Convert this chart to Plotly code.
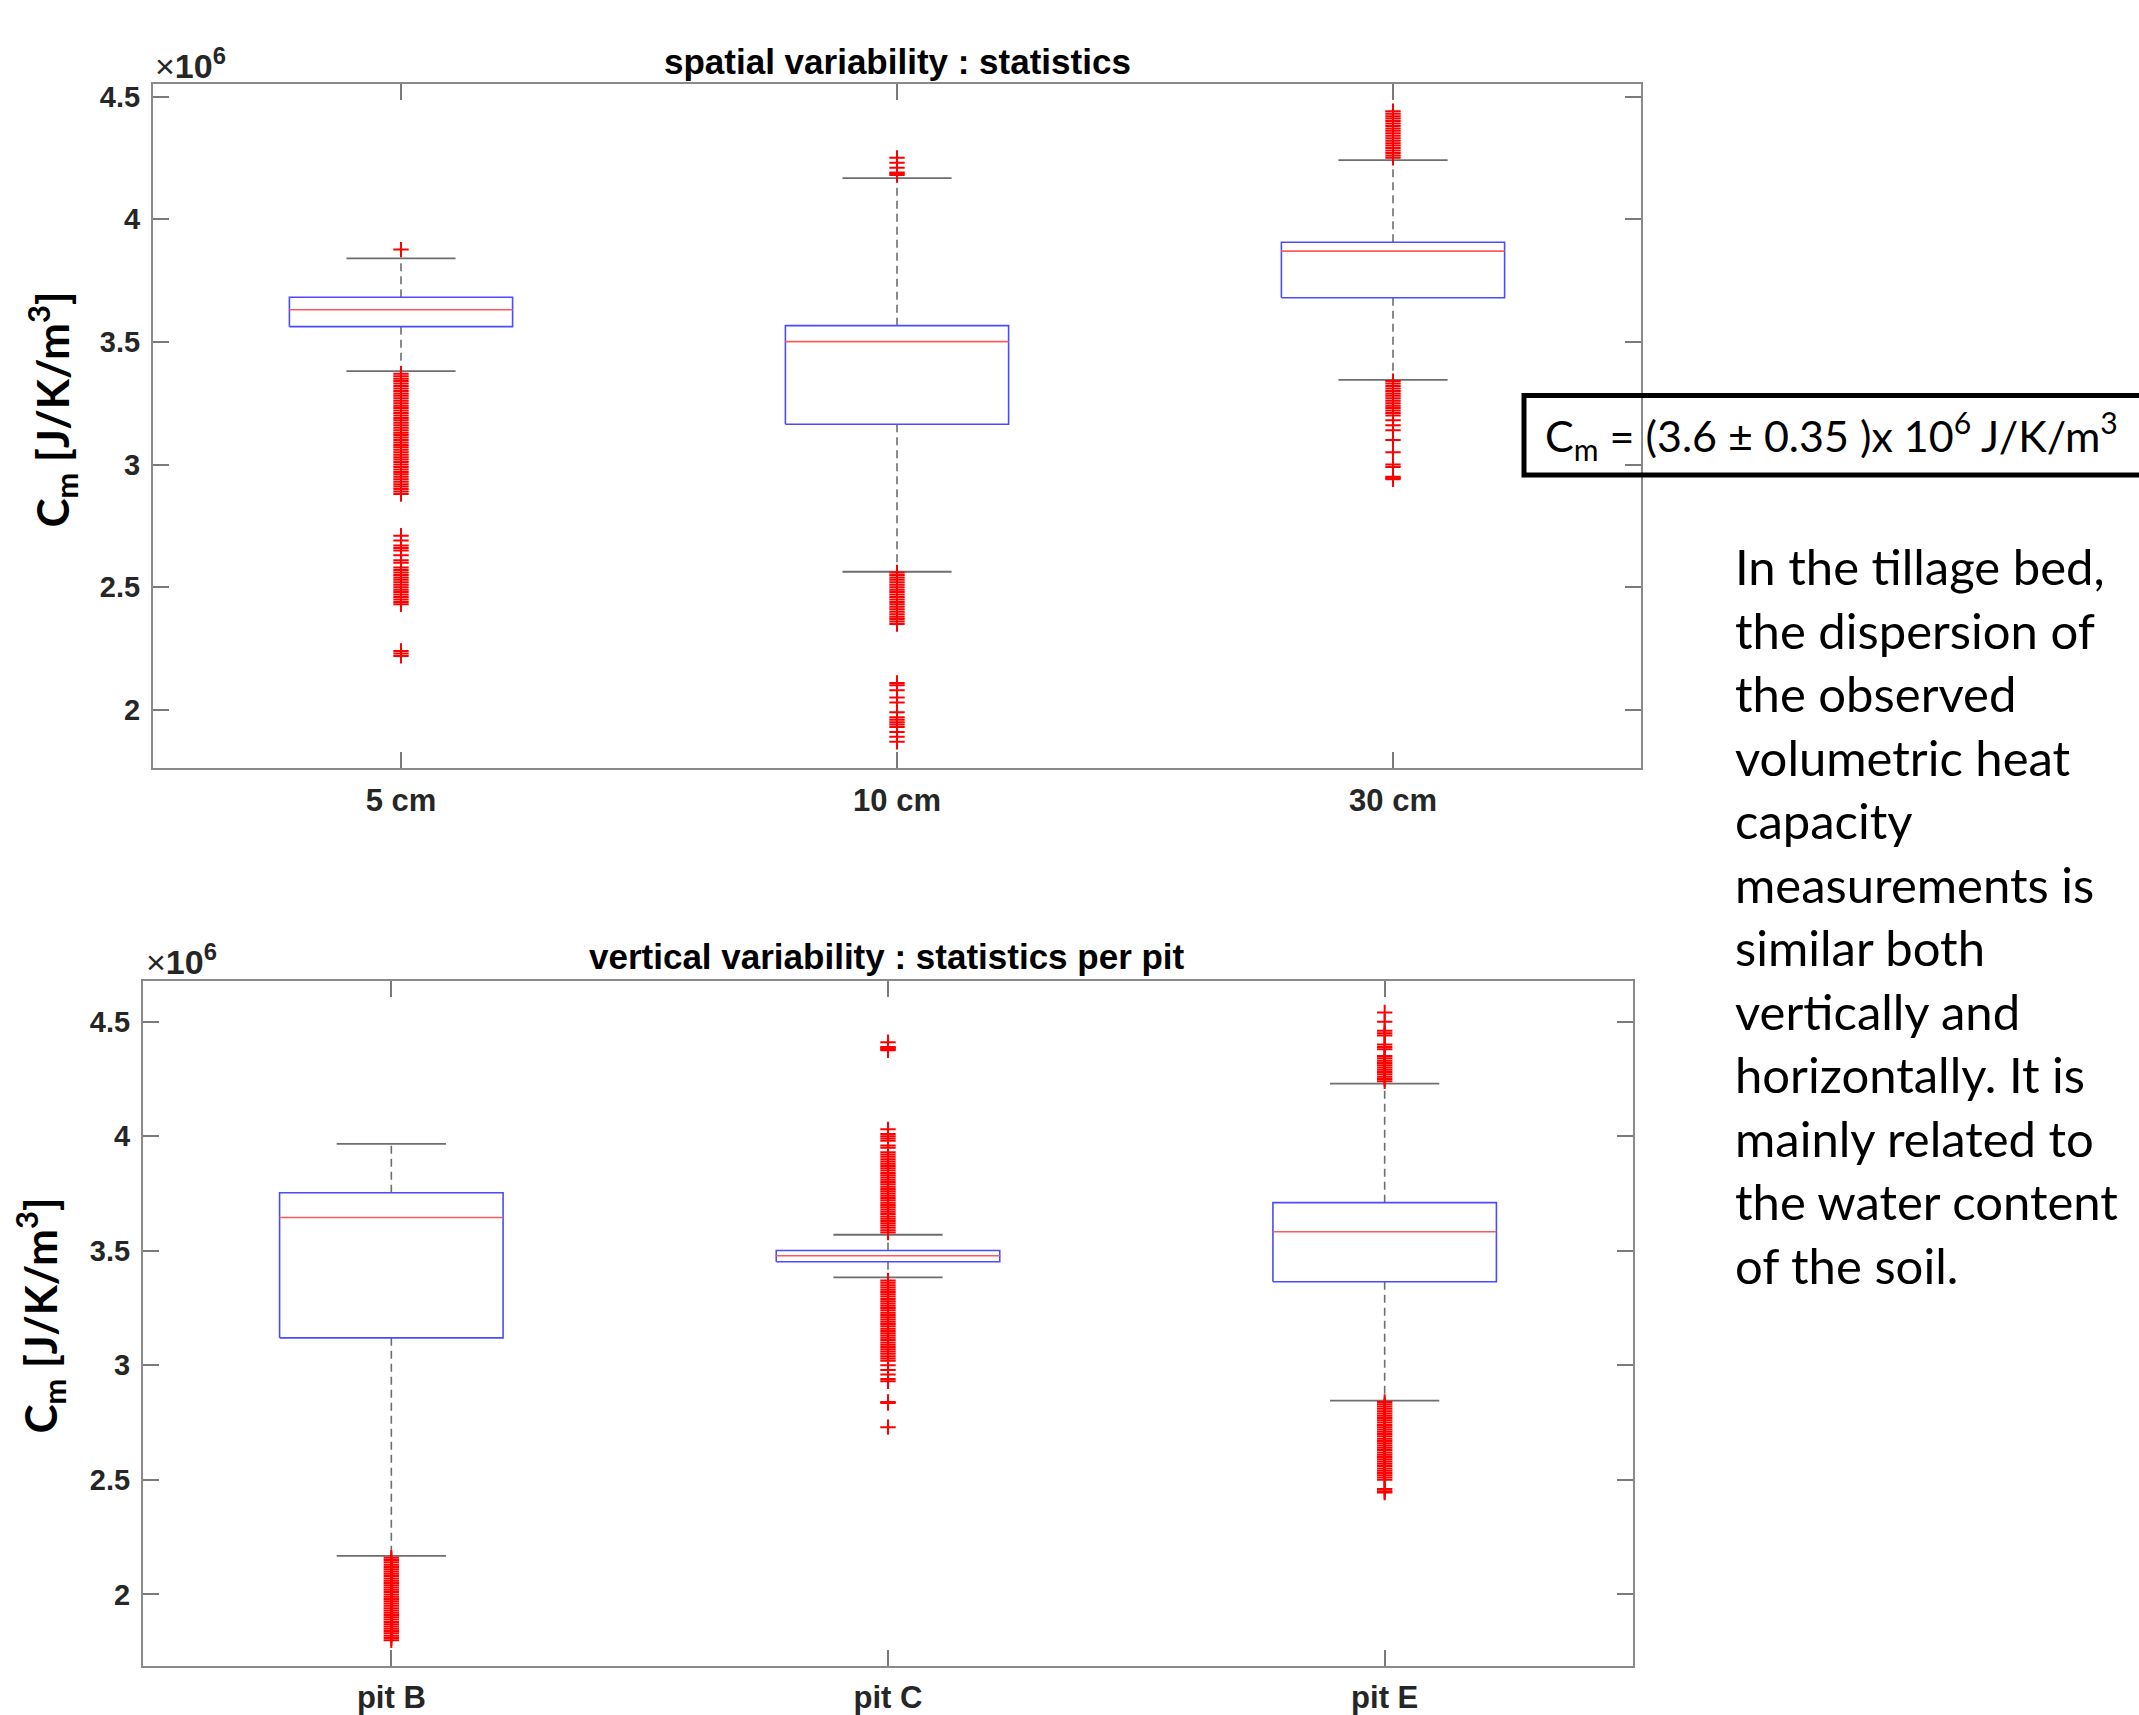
import plotly.graph_objects as go

# ---------------- data (values in 10^6 J/K/m^3) ----------------
top_categories = ["5 cm", "10 cm", "30 cm"]
top_q1 = [3.562, 3.164, 3.680]
top_median = [3.631, 3.501, 3.870]
top_q3 = [3.682, 3.566, 3.906]
top_lower_whisker = [3.381, 2.563, 3.345]
top_upper_whisker = [3.840, 4.167, 4.241]

top_outliers_5cm = [3.876,
    3.37, 3.36, 3.35, 3.34, 3.33, 3.32, 3.31, 3.30, 3.29, 3.28, 3.27, 3.26,
    3.25, 3.24, 3.23, 3.22, 3.21, 3.20, 3.19, 3.18, 3.17, 3.16, 3.15, 3.14,
    3.13, 3.12, 3.11, 3.10, 3.09, 3.08, 3.07, 3.06, 3.05, 3.04, 3.03, 3.02,
    3.01, 3.00, 2.99, 2.98, 2.97, 2.96, 2.95, 2.94, 2.93, 2.92, 2.91, 2.90,
    2.89, 2.88,
    2.71, 2.69, 2.67, 2.66, 2.65, 2.63, 2.61, 2.60,
    2.58, 2.57, 2.56, 2.55, 2.54, 2.53, 2.52, 2.51, 2.50, 2.49, 2.48, 2.47,
    2.46, 2.45, 2.44, 2.43,
    2.24, 2.23, 2.22]
top_outliers_10cm = [4.25, 4.23, 4.21, 4.19, 4.185, 4.18,
    2.56, 2.55, 2.54, 2.53, 2.52, 2.51, 2.50, 2.49, 2.48, 2.47, 2.46, 2.45,
    2.44, 2.43, 2.42, 2.41, 2.40, 2.39, 2.38, 2.37, 2.36, 2.35,
    2.11, 2.10, 2.08, 2.05, 2.03, 1.99, 1.97, 1.96, 1.95, 1.94, 1.93,
    1.91, 1.89, 1.87]
top_outliers_30cm = [4.44, 4.43, 4.42, 4.41, 4.40, 4.39, 4.38, 4.37, 4.36,
    4.35, 4.34, 4.33, 4.32, 4.31, 4.30, 4.29, 4.28, 4.27, 4.26, 4.25,
    3.34, 3.33, 3.32, 3.31, 3.30, 3.29, 3.28, 3.27, 3.26, 3.25, 3.24, 3.23,
    3.22, 3.21, 3.20, 3.18, 3.16, 3.14, 3.10, 3.05, 3.00, 2.99, 2.95, 2.945,
    2.94]

bottom_categories = ["pit B", "pit C", "pit E"]
bottom_q1 = [3.120, 3.452, 3.365]
bottom_median = [3.645, 3.478, 3.583]
bottom_q3 = [3.753, 3.501, 3.710]
bottom_lower_whisker = [2.168, 3.384, 2.846]
bottom_upper_whisker = [3.967, 3.570, 4.230]

bottom_outliers_pitB = [2.16, 2.15, 2.14, 2.13, 2.12, 2.11, 2.10, 2.09, 2.08,
    2.07, 2.06, 2.05, 2.04, 2.03, 2.02, 2.01, 2.00, 1.99, 1.98, 1.97, 1.96,
    1.95, 1.94, 1.93, 1.92, 1.91, 1.90, 1.89, 1.88, 1.87, 1.86, 1.85, 1.84,
    1.83, 1.82, 1.81, 1.80]
bottom_outliers_pitC = [4.41, 4.39, 4.385, 4.38, 4.375,
    4.03, 4.01, 4.00, 3.99, 3.98, 3.96, 3.95, 3.93, 3.92, 3.91,
    3.90, 3.89, 3.88, 3.87, 3.86, 3.85, 3.84, 3.83, 3.82, 3.81, 3.80, 3.79,
    3.78, 3.77, 3.76, 3.75, 3.74, 3.73, 3.72, 3.71, 3.70, 3.69, 3.68, 3.67,
    3.66, 3.65, 3.64, 3.63, 3.62, 3.61, 3.60, 3.59, 3.58,
    3.37, 3.36, 3.35, 3.34, 3.33, 3.32, 3.31, 3.30, 3.29, 3.28, 3.27, 3.26,
    3.25, 3.24, 3.23, 3.22, 3.21, 3.20, 3.19, 3.18, 3.17, 3.16, 3.15, 3.14,
    3.13, 3.12, 3.11, 3.10, 3.09, 3.08, 3.07, 3.06, 3.05, 3.04, 3.03, 3.02,
    3.00, 2.98, 2.96, 2.94, 2.93, 2.84, 2.835, 2.73]
bottom_outliers_pitE = [4.54, 4.50, 4.46, 4.45, 4.44, 4.40, 4.39, 4.38,
    4.35, 4.34, 4.33, 4.32, 4.31, 4.30, 4.29, 4.28, 4.27, 4.26, 4.25, 4.24,
    2.84, 2.83, 2.82, 2.81, 2.80, 2.79, 2.78, 2.77, 2.76, 2.75, 2.74, 2.73,
    2.72, 2.71, 2.70, 2.69, 2.68, 2.67, 2.66, 2.65, 2.64, 2.63, 2.62, 2.61,
    2.60, 2.59, 2.58, 2.57, 2.56, 2.55, 2.54, 2.53, 2.52, 2.51, 2.50,
    2.46, 2.45, 2.445]

top_title = "spatial variability : statistics"
bottom_title = "vertical variability : statistics per pit"
ytick_vals = [2, 2.5, 3, 3.5, 4, 4.5]
summary_text = "C<sub>m</sub> = (3.6 \u00b1 0.35 )x 10<sup>6</sup> J/K/m<sup>3</sup>"
paragraph_lines = ["In the tillage bed,", "the dispersion of", "the observed",
                   "volumetric heat", "capacity", "measurements is",
                   "similar both", "vertically and", "horizontally. It is",
                   "mainly related to", "the water content", "of the soil."]

# ---------------- styling ----------------
W, H = 2139, 1715
BOX_HALF = 0.225
CAP_HALF = 0.11
AX_FONT = "Liberation Sans, Arial, sans-serif"
TXT_FONT = "Lato, Noto Sans, sans-serif"


def px(x):
    return x / W


def py(y):
    # vertical placement, calibrated against the rendered page
    f = y / 0.9865 - 1.4
    return 1 - f / H


fig = go.Figure()


def add_boxplot(xa, ya, q1, med, q3, lw, uw, outliers):
    n = len(q1)
    pos = list(range(1, n + 1))
    wx, wy = [], []
    for i in range(n):
        wx += [pos[i], pos[i], None, pos[i], pos[i], None]
        wy += [q3[i], uw[i], None, q1[i], lw[i], None]
    fig.add_trace(go.Scatter(x=wx, y=wy, mode="lines", xaxis=xa, yaxis=ya,
                             line=dict(color="#6e6e6e", width=1.6, dash="8px,5px"),
                             hoverinfo="skip", showlegend=False))
    cx, cy = [], []
    for i in range(n):
        cx += [pos[i] - CAP_HALF, pos[i] + CAP_HALF, None,
               pos[i] - CAP_HALF, pos[i] + CAP_HALF, None]
        cy += [uw[i], uw[i], None, lw[i], lw[i], None]
    fig.add_trace(go.Scatter(x=cx, y=cy, mode="lines", xaxis=xa, yaxis=ya,
                             line=dict(color="#6e6e6e", width=1.8),
                             hoverinfo="skip", showlegend=False))
    bx, by = [], []
    for i in range(n):
        bx += [pos[i] - BOX_HALF, pos[i] + BOX_HALF, pos[i] + BOX_HALF,
               pos[i] - BOX_HALF, pos[i] - BOX_HALF, None]
        by += [q1[i], q1[i], q3[i], q3[i], q1[i], None]
    fig.add_trace(go.Scatter(x=bx, y=by, mode="lines", xaxis=xa, yaxis=ya,
                             line=dict(color="#4b4bff", width=1.6),
                             hoverinfo="skip", showlegend=False))
    mx, my = [], []
    for i in range(n):
        mx += [pos[i] - BOX_HALF, pos[i] + BOX_HALF, None]
        my += [med[i], med[i], None]
    fig.add_trace(go.Scatter(x=mx, y=my, mode="lines", xaxis=xa, yaxis=ya,
                             line=dict(color="#ff5a5a", width=1.6),
                             hoverinfo="skip", showlegend=False))
    for i, vals in enumerate(outliers):
        fig.add_trace(go.Scatter(x=[pos[i]] * len(vals), y=vals, mode="markers",
                                 xaxis=xa, yaxis=ya,
                                 marker=dict(symbol="cross-thin", size=11, color="red",
                                             line=dict(color="red", width=2)),
                                 hoverinfo="skip", showlegend=False))


add_boxplot("x", "y", top_q1, top_median, top_q3, top_lower_whisker,
            top_upper_whisker,
            [top_outliers_5cm, top_outliers_10cm, top_outliers_30cm])
add_boxplot("x2", "y2", bottom_q1, bottom_median, bottom_q3, bottom_lower_whisker,
            bottom_upper_whisker,
            [bottom_outliers_pitB, bottom_outliers_pitC, bottom_outliers_pitE])

axis_common = dict(showline=True, mirror="ticks", linecolor="#8a8a8a", linewidth=2,
                   ticks="inside", ticklen=16, tickwidth=1.5, tickcolor="#7a7a7a",
                   showgrid=False, zeroline=False)
xfont = dict(family=AX_FONT, size=31, color="#262626")
yfont = dict(family=AX_FONT, size=29, color="#262626")

fig.update_layout(
    width=W, height=H, autosize=False,
    margin=dict(l=0, r=0, t=0, b=0),
    paper_bgcolor="white", plot_bgcolor="white",
    showlegend=False,
    xaxis=dict(domain=[px(153), px(1641)], anchor="y", range=[0.5, 3.5],
               tickvals=[1, 2, 3], ticktext=["<b>%s</b>" % c for c in top_categories],
               ticklabelstandoff=4, tickfont=xfont, **axis_common),
    yaxis=dict(domain=[py(772), py(83)], anchor="x", range=[1.764, 4.551],
               tickvals=ytick_vals,
               ticktext=["<b>%g</b>" % v for v in ytick_vals],
               ticklabelstandoff=5, tickfont=yfont, **axis_common),
    xaxis2=dict(domain=[px(143), px(1633)], anchor="y2", range=[0.5, 3.5],
                tickvals=[1, 2, 3], ticktext=["<b>%s</b>" % c for c in bottom_categories],
                ticklabelstandoff=3, tickfont=xfont, **axis_common),
    yaxis2=dict(domain=[py(1677), py(987)], anchor="x2", range=[1.688, 4.677],
                tickvals=ytick_vals,
                ticktext=["<b>%g</b>" % v for v in ytick_vals],
                ticklabelstandoff=5, tickfont=yfont, **axis_common),
)

ann = []
ann.append(dict(text="<b>%s</b>" % top_title, x=px(897), y=py(60), xref="paper", yref="paper",
                showarrow=False, xanchor="center", yanchor="middle",
                font=dict(family=AX_FONT, size=35, color="black")))
ann.append(dict(text="<b>%s</b>" % bottom_title, x=px(887), y=py(962), xref="paper", yref="paper",
                showarrow=False, xanchor="center", yanchor="middle",
                font=dict(family=AX_FONT, size=35, color="black")))
for (xx, yy) in [(153, 62), (144, 965)]:
    ann.append(dict(text="\u00d7<b>10<sup>6</sup></b>", x=px(xx), y=py(yy), xref="paper", yref="paper",
                    showarrow=False, xanchor="left", yanchor="middle",
                    font=dict(family=AX_FONT, size=34, color="#262626")))
for (xx, yy) in [(53, 411), (41, 1324)]:
    ann.append(dict(text="<b>C<sub>m</sub> [J/K/m<sup>3</sup>]</b>", x=px(xx), y=py(yy),
                    xref="paper", yref="paper", textangle=-90,
                    showarrow=False, xanchor="center", yanchor="middle",
                    font=dict(family=TXT_FONT, size=44, color="black")))
ann.append(dict(text=summary_text, x=px(1543), y=py(437), xref="paper", yref="paper",
                showarrow=False, xanchor="left", yanchor="middle",
                font=dict(family=TXT_FONT, size=43, color="black")))
for k, line in enumerate(paragraph_lines):
    ann.append(dict(text=line, x=px(1733), y=py(569 + 64 * k), xref="paper", yref="paper",
                    showarrow=False, xanchor="left", yanchor="middle",
                    font=dict(family=TXT_FONT, size=49, color="black")))
fig.update_layout(annotations=ann)

fig.add_shape(type="rect", xref="paper", yref="paper",
              x0=px(1524), x1=1.02, y0=py(477), y1=py(397),
              line=dict(color="black", width=5), fillcolor="rgba(0,0,0,0)", layer="above")

fig.write_html("out.html",
               config={"displayModeBar": False},
               post_script="document.body.style.margin='0px';"
                           "document.documentElement.style.overflow='hidden';")
